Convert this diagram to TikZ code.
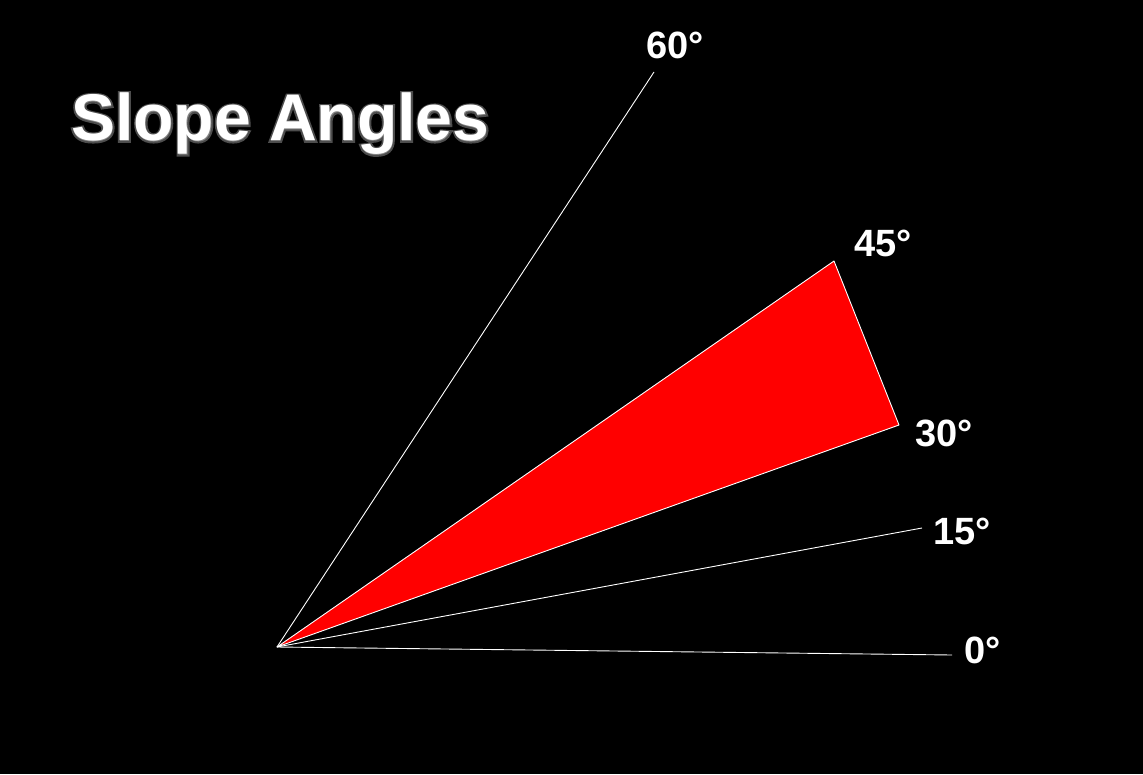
\documentclass[tikz,border=0pt]{standalone}
\usepackage{fontspec}
\setmainfont{Liberation Sans}
\newfontfamily\glowfont{Liberation Sans Bold}[FakeBold=6]
\begin{document}
\begin{tikzpicture}[x=1pt, y=-1pt,
                    ray/.style={draw=white, line width=0.9pt},
                    lbl/.style={text=white, font=\fontsize{38}{40}\selectfont\bfseries, inner sep=0pt, anchor=west}]
                    \fill[black] (0,0) rectangle (1143,774);
                    \coordinate (o) at (277,647);
                    \coordinate (p0) at (952,655);
                    \coordinate (p15) at (922,528);
                    \coordinate (p30) at (899,425);
                    \coordinate (p45) at (834,261);
                    \coordinate (p60) at (654,72);
                    \filldraw[fill=red, draw=white, line width=0.9pt, line join=round] (o) -- (p45) -- (p30) -- cycle;
                    \draw[ray] (o) -- (p0);
                    \draw[ray] (o) -- (p15);
                    \draw[ray] (o) -- (p60);
                    \node[lbl] (l0) at (964,650) {0°};
                    \node[lbl] (l15) at (933,531) {15°};
                    \node[lbl] (l30) at (915,433) {30°};
                    \node[lbl] (l45) at (854,243) {45°};
                    \node[lbl] (l60) at (646,45) {60°};
                    % soft glow behind the title
                    \node[text=white, opacity=0.3, font=\fontsize{66}{70}\glowfont, inner sep=0pt, anchor=west] (glow) at (71,124) {Slope Angles};
                    \node[text=white, font=\fontsize{66}{70}\selectfont\bfseries, inner sep=0pt, anchor=west] (title) at (71,124) {Slope Angles};
                \end{tikzpicture}
\end{document}
